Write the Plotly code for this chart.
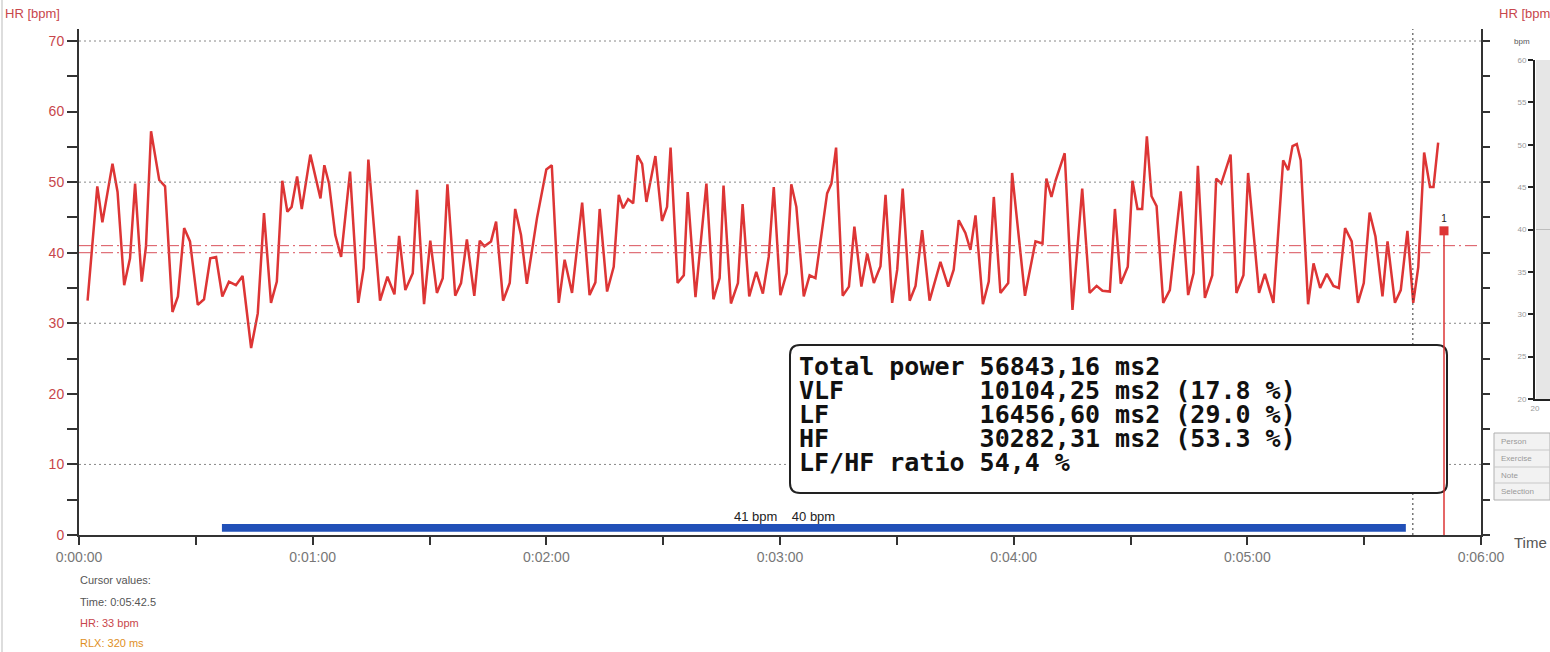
import plotly.graph_objects as go

W, H = 1550, 652


def px(x):
    return x / W


def py(y):
    return 1 - y / H


# ---------------- data ----------------
time_s = [
    2.2, 4.7, 6.0, 8.6, 9.9, 11.6, 13.1, 14.4, 16.1, 17.2, 18.5, 20.6, 22.1, 24.0, 25.4, 27.0, 28.5,
    30.5, 32.1, 33.7, 35.2, 36.8, 38.5, 40.3, 42.0, 44.2, 45.9, 47.5, 49.3, 50.8, 52.2, 53.5, 54.6,
    56.0, 57.2, 59.4, 62.0, 63.0, 64.2, 65.8, 67.3, 69.6, 71.7, 73.1, 74.3, 77.3, 79.2, 81.0, 82.2,
    83.8, 85.7, 86.8, 88.6, 90.2, 91.9, 93.4, 94.6, 96.6, 98.1, 99.6, 101.5, 102.9, 104.1, 105.8,
    107.1, 108.9, 110.6, 112.0, 113.5, 115.0, 117.6, 120.0, 121.4, 123.2, 124.7, 126.6, 129.2,
    131.1, 132.6, 133.7, 135.6, 137.3, 138.6, 139.7, 141.0, 142.3, 143.4, 144.6, 145.7, 148.0,
    149.7, 151.0, 151.9, 153.7, 155.3, 156.3, 158.3, 161.1, 162.9, 164.5, 165.5, 167.4,
    169.2, 170.4, 172.1, 173.9, 175.6, 177.1, 178.4, 180.1, 181.7, 182.9, 184.2, 186.1, 187.6,
    189.1, 192.1, 193.2, 194.4, 196.1, 197.7, 199.1, 200.9, 202.4, 204.1, 205.8, 207.1, 208.8,
    210.1, 211.5, 213.3, 214.8, 216.5, 218.4, 221.2, 223.2, 224.6, 225.9, 227.6, 228.9, 230.2,
    232.1, 233.6, 234.9, 236.6, 238.6, 239.6, 242.9, 245.6, 247.4, 248.4, 249.7, 250.8,
    253.1, 255.1, 257.6, 259.5, 261.3, 262.8, 264.7, 266.0, 267.5, 269.3, 270.5, 271.8, 273.0,
    274.2, 275.4, 276.7, 278.4, 280.1, 282.9, 284.8, 286.2, 287.3, 289.1, 291.0, 292.0, 293.3,
    295.7, 297.2, 299.0, 300.2, 303.0, 304.5, 306.7, 309.2, 310.5, 311.6, 312.7, 313.7, 315.6,
    317.0, 318.7, 320.4, 322.1, 323.5, 325.1, 326.8, 328.4, 329.9, 331.4, 332.9,
    334.7, 336.0, 337.9, 339.4, 341.1, 342.6, 343.9, 345.4, 346.9, 347.8, 349.0,
]
hr_bpm = [
    33.2, 49.4, 44.3, 52.6, 48.6, 35.4, 39.2, 49.8, 35.9, 40.9, 57.2, 50.3, 49.4, 31.6, 33.8, 43.5, 41.6,
    32.6, 33.4, 39.2, 39.4, 33.8, 35.9, 35.4, 36.7, 26.5, 31.4, 45.6, 32.9, 35.9, 50.2, 45.8, 46.5,
    50.8, 46.2, 53.9, 47.7, 52.4, 49.8, 42.5, 39.4, 51.5, 32.9, 37.8, 53.2, 33.2, 36.6, 34.1, 42.4,
    34.7, 37.1, 48.9, 32.7, 41.7, 34.3, 36.4, 49.7, 33.9, 35.7, 41.9, 33.9, 41.7, 40.9, 41.6,
    44.4, 33.2, 35.7, 46.2, 42.5, 35.6, 44.9, 51.8, 52.4, 32.9, 39.0, 34.3, 47.1,
    34.0, 35.8, 46.2, 34.5, 38.0, 48.2, 46.3, 47.6, 47.0, 53.8, 52.6, 47.2, 53.7,
    44.5, 46.5, 54.9, 35.7, 36.8, 48.6, 33.7, 49.8, 33.4, 36.4, 49.5, 32.8,
    35.7, 46.9, 33.8, 37.3, 34.2, 39.4, 49.3, 34.0, 37.1, 49.7, 46.5, 33.8, 36.8,
    36.4, 48.4, 49.8, 54.9, 33.9, 35.2, 43.7, 35.2, 39.9, 35.7, 38.1, 48.2, 32.9,
    37.6, 49.1, 33.2, 35.3, 43.2, 33.2, 38.7, 35.2, 37.6, 44.6, 42.8, 40.4, 45.3,
    32.7, 35.9, 47.9, 34.3, 35.7, 51.3, 33.9, 41.6, 41.3, 50.5, 47.9, 50.3,
    54.1, 31.9, 49.1, 34.3, 35.3, 34.6, 34.5, 46.2, 35.6, 38.0, 50.2, 46.2, 46.2,
    56.5, 48.0, 46.6, 32.9, 34.7, 48.7, 34.0, 37.1, 52.3, 33.6, 36.8, 50.5, 49.8,
    53.9, 34.3, 36.8, 51.3, 34.3, 37.0, 32.9, 53.1, 51.7, 55.1, 55.4, 53.1, 32.7,
    38.5, 35.0, 37.0, 35.3, 35.0, 43.5, 41.6, 32.9, 35.7, 45.7, 42.3,
    33.8, 41.6, 32.9, 34.7, 43.1, 32.9, 38.0, 54.2, 49.3, 49.3, 55.6,
]

x_tick_vals = [0, 60, 120, 180, 240, 300, 360]
x_tick_text = ["0:00:00", "0:01:00", "0:02:00", "0:03:00", "0:04:00", "0:05:00", "0:06:00"]
x_minor_vals = [30, 90, 150, 210, 270, 330]
grid_levels = [10, 30, 50, 70]
avg_levels = [41, 40]
avg_ends = [360, 347]
selection_start, selection_end = 36.7, 340.7
cursor_time = 342.5
marker_time, marker_hr = 350.5, 43.1

power_lines = [
    "Total power 56843,16 ms2",
    "VLF         10104,25 ms2 (17.8 %)",
    "LF          16456,60 ms2 (29.0 %)",
    "HF          30282,31 ms2 (53.3 %)",
    "LF/HF ratio 54,4 %",
]
cursor_lines = [
    ("Cursor values:", "#555555"),
    ("Time: 0:05:42.5", "#555555"),
    ("HR: 33 bpm", "#c8464b"),
    ("RLX: 320 ms", "#e0901e"),
]
table_rows = ["Person", "Exercise", "Note", "Selection"]

RED = "#dd3535"
AXIS = "#333333"
LABEL_RED = "#c8464b"
FONT = "Liberation Sans, Arial, sans-serif"
Y_MAX = 71.7

fig = go.Figure()
fig.add_trace(go.Scatter(x=time_s, y=hr_bpm, mode="lines",
                         line=dict(color=RED, width=2.5), hoverinfo="skip",
                         xaxis="x", yaxis="y"))
fig.add_trace(go.Scatter(x=[marker_time], y=[marker_hr], mode="markers+text",
                         marker=dict(symbol="square", size=9, color=RED),
                         text=["1"], textposition="top center",
                         textfont=dict(size=10, color="#222222", family=FONT),
                         hoverinfo="skip", xaxis="x", yaxis="y"))
# invisible traces so overlay / small axes render
fig.add_trace(go.Scatter(x=[0], y=[0], mode="markers", marker=dict(opacity=0),
                         hoverinfo="skip", xaxis="x", yaxis="y3"))
fig.add_trace(go.Scatter(x=[20], y=[20], mode="markers", marker=dict(opacity=0),
                         hoverinfo="skip", xaxis="x2", yaxis="y2"))

shapes = []
# background for small panel
shapes.append(dict(type="rect", xref="paper", yref="paper", x0=px(1536), x1=1.0,
                   y0=py(399), y1=py(60), fillcolor="#e6e6e6", line=dict(width=0),
                   layer="below"))
shapes.append(dict(type="line", xref="paper", yref="y2", x0=px(1536), x1=1.0,
                   y0=40, y1=40, line=dict(color="#bdbdbd", width=1), layer="below"))
# left light border
shapes.append(dict(type="line", xref="paper", yref="paper", x0=px(2), x1=px(2), y0=0, y1=1,
                   line=dict(color="#dddddd", width=2)))
# dotted gridlines
for g in grid_levels:
    shapes.append(dict(type="line", xref="x", yref="y", x0=0, x1=360, y0=g, y1=g,
                       line=dict(color="#888888", width=1, dash="2px,3px")))
# average dash-dot lines
for lvl, end in zip(avg_levels, avg_ends):
    shapes.append(dict(type="line", xref="x", yref="y", x0=0, x1=end, y0=lvl, y1=lvl,
                       line=dict(color="#d9505a", width=1, dash="12px,4px,2px,4px")))
# cursor line
shapes.append(dict(type="line", xref="x", yref="y", x0=cursor_time, x1=cursor_time,
                   y0=0, y1=Y_MAX, line=dict(color="#333333", width=1, dash="2px,3px")))
# selection bar
shapes.append(dict(type="rect", xref="x", yref="y", x0=selection_start, x1=selection_end,
                   y0=0.45, y1=1.55, fillcolor="#2150b8", line=dict(width=0)))
# rounded box
bx0, by0, bx1, by1, r = 790, 345, 1447, 493, 10


def P(x, y):
    return f"{px(x):.6f},{py(y):.6f}"


path = (f"M {P(bx0 + r, by0)} L {P(bx1 - r, by0)} Q {P(bx1, by0)} {P(bx1, by0 + r)} "
        f"L {P(bx1, by1 - r)} Q {P(bx1, by1)} {P(bx1 - r, by1)} "
        f"L {P(bx0 + r, by1)} Q {P(bx0, by1)} {P(bx0, by1 - r)} "
        f"L {P(bx0, by0 + r)} Q {P(bx0, by0)} {P(bx0 + r, by0)} Z")
shapes.append(dict(type="path", xref="paper", yref="paper", path=path,
                   fillcolor="white", line=dict(color="#222222", width=2)))
# marker stem
shapes.append(dict(type="line", xref="x", yref="y", x0=marker_time, x1=marker_time,
                   y0=0, y1=marker_hr, line=dict(color=RED, width=1.5)))
# side table
shapes.append(dict(type="rect", xref="paper", yref="paper", x0=px(1494), x1=1.0,
                   y0=py(500), y1=py(433), fillcolor="#f2f2f2",
                   line=dict(color="#b0b0b0", width=1)))
for yy in [450, 467, 483]:
    shapes.append(dict(type="line", xref="paper", yref="paper", x0=px(1494), x1=1.0,
                       y0=py(yy), y1=py(yy), line=dict(color="#c8c8c8", width=1)))

ann = []
mono = "DejaVu Sans Mono, monospace"
line_y = [366, 390, 414, 438, 462]
for txt, yy in zip(power_lines, line_y):
    ann.append(dict(xref="paper", yref="paper", x=px(797), y=py(yy), xanchor="left",
                    yanchor="middle", showarrow=False,
                    text="<b>" + txt.replace(" ", "\u00a0") + "</b>",
                    font=dict(family=mono, size=25, color="#111111"),
                    ))
for (txt, col), yy in zip(cursor_lines, [580, 602, 623, 643]):
    ann.append(dict(xref="paper", yref="paper", x=px(78), y=py(yy), xanchor="left",
                    yanchor="middle", showarrow=False, text=txt,
                    font=dict(family=FONT, size=11, color=col)))
ann.append(dict(xref="paper", yref="paper", x=px(3), y=py(14), xanchor="left", yanchor="middle",
                showarrow=False, text="HR [bpm]", font=dict(family=FONT, size=13, color=LABEL_RED)))
ann.append(dict(xref="paper", yref="paper", x=px(1497), y=py(14), xanchor="left", yanchor="middle",
                showarrow=False, text="HR [bpm]", font=dict(family=FONT, size=13, color=LABEL_RED)))
ann.append(dict(xref="paper", yref="paper", x=px(1512), y=py(542), xanchor="left", yanchor="middle",
                showarrow=False, text="Time", font=dict(family=FONT, size=15, color="#555555")))
ann.append(dict(xref="paper", yref="paper", x=px(1522), y=py(42), xanchor="center", yanchor="middle",
                showarrow=False, text="bpm", font=dict(family=FONT, size=8, color="#555555")))
ann.append(dict(xref="x", yref="paper", x=181.1, y=py(516), xanchor="center", yanchor="middle",
                showarrow=False, text="41 bpm\u00a0\u00a0\u00a0\u00a040 bpm",
                font=dict(family=FONT, size=13, color="#222222")))
for txt, yy in zip(table_rows, [441.5, 458.5, 475, 491.5]):
    ann.append(dict(xref="paper", yref="paper", x=px(1499), y=py(yy), xanchor="left",
                    yanchor="middle", showarrow=False, text=txt,
                    font=dict(family=FONT, size=8, color="#999999")))

fig.update_layout(
    width=W, height=H, autosize=False,
    margin=dict(l=0, r=0, t=0, b=0, pad=0),
    template="none",
    paper_bgcolor="white", plot_bgcolor="rgba(0,0,0,0)",
    showlegend=False,
    shapes=shapes, annotations=ann,
    xaxis=dict(domain=[px(79), px(1481)], range=[0, 360], anchor="y",
               tickmode="array", tickvals=x_tick_vals, ticktext=x_tick_text,
               ticks="outside", ticklen=8, tickwidth=1.5, tickcolor=AXIS,
               minor=dict(tickmode="array", tickvals=x_minor_vals, ticks="outside",
                          ticklen=8, tickwidth=1.5, tickcolor=AXIS, showgrid=False),
               showline=True, linecolor=AXIS, linewidth=2, showgrid=False, zeroline=False,
               tickfont=dict(family=FONT, size=14, color="#777777"), automargin=False),
    yaxis=dict(domain=[py(535), py(29)], range=[0, Y_MAX], anchor="x",
               tickmode="linear", tick0=0, dtick=10,
               ticks="outside", ticklen=10, tickwidth=1.5, tickcolor=AXIS,
               minor=dict(dtick=5, tick0=0, ticks="outside", ticklen=10, tickwidth=1.5,
                          tickcolor=AXIS, showgrid=False),
               showline=True, linecolor=AXIS, linewidth=2, showgrid=False, zeroline=False,
               tickfont=dict(family=FONT, size=14, color=LABEL_RED), automargin=False),
    yaxis3=dict(overlaying="y", side="right", anchor="x", range=[0, Y_MAX],
                tickmode="linear", tick0=0, dtick=5, ticks="outside", ticklen=7,
                tickwidth=1.5, tickcolor=AXIS, showticklabels=False,
                showline=True, linecolor=AXIS, linewidth=2, showgrid=False, zeroline=False,
                automargin=False),
    xaxis2=dict(domain=[px(1535), 1.0], range=[20, 25], anchor="y2",
                tickmode="array", tickvals=[20], ticktext=["20"], ticks="",
                showline=True, linecolor="#222222", linewidth=2, showgrid=False, zeroline=False,
                tickfont=dict(family=FONT, size=8, color="#999999"), automargin=False),
    yaxis2=dict(domain=[py(399), py(60)], range=[20, 60], anchor="x2",
                tickmode="linear", tick0=20, dtick=5, ticks="outside", ticklen=5,
                tickwidth=2, tickcolor="#222222",
                showline=True, linecolor="#222222", linewidth=2, showgrid=False, zeroline=False,
                tickfont=dict(family=FONT, size=8, color="#999999"), automargin=False),
)

fig.write_html("out.html")
